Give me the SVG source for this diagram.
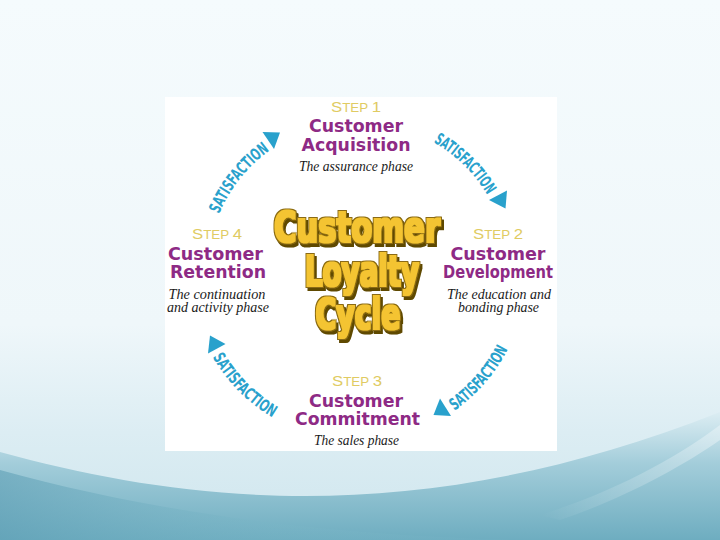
<svg xmlns="http://www.w3.org/2000/svg" width="720" height="540" viewBox="0 0 720 540">
<defs>
<linearGradient id="bg" x1="0" y1="0" x2="0" y2="1">
<stop offset="0" stop-color="#f5fbfd"/>
<stop offset="0.6" stop-color="#eff7fa"/>
<stop offset="0.8" stop-color="#dcedf3"/>
<stop offset="1" stop-color="#cfe6ee"/>
</linearGradient>
<linearGradient id="wave" x1="0" y1="0" x2="0" y2="1">
<stop offset="0" stop-color="#dcedf3"/>
<stop offset="0.4" stop-color="#a3cdda"/>
<stop offset="1" stop-color="#6eadc0"/>
</linearGradient>
<linearGradient id="wave2" x1="0" y1="0" x2="1" y2="0">
<stop offset="0" stop-color="#5e9fb5" stop-opacity="0.6"/>
<stop offset="0.5" stop-color="#7ab7c7" stop-opacity="0.2"/>
<stop offset="1" stop-color="#8cc3d1" stop-opacity="0"/>
</linearGradient>
<linearGradient id="streak" x1="0" y1="0" x2="1" y2="0">
<stop offset="0" stop-color="#ffffff" stop-opacity="0"/>
<stop offset="1" stop-color="#ffffff" stop-opacity="0.35"/>
</linearGradient>
<filter id="fat" x="-5%" y="-20%" width="110%" height="150%">
<feMorphology in="SourceAlpha" operator="dilate" radius="1.5" result="d"/>
<feOffset in="d" dx="2" dy="2.5" result="o"/>
<feFlood flood-color="#5e4800"/>
<feComposite in2="o" operator="in" result="sh"/>
<feFlood flood-color="#8a6a12"/>
<feComposite in2="d" operator="in" result="outline"/>
<feMorphology in="SourceGraphic" operator="dilate" radius="0.7" result="fill"/>
<feMerge>
<feMergeNode in="sh"/>
<feMergeNode in="outline"/>
<feMergeNode in="fill"/>
</feMerge>
</filter>
<style>
.step{font-family:"Liberation Sans","DejaVu Sans",sans-serif;font-size:12px;fill:#e0cb62;text-anchor:middle}
.big{font-size:15px}
.title{font-family:"DejaVu Sans","Verdana",sans-serif;font-weight:bold;font-size:18px;fill:#8e2a85;text-anchor:middle}
.sub{font-family:"Liberation Serif","Times New Roman",serif;font-style:italic;font-size:14px;fill:#1a1a1a;text-anchor:middle}
.sat{font-family:"Liberation Sans Narrow","DejaVu Sans Condensed","Liberation Sans",sans-serif;font-weight:bold;font-size:16.5px;fill:#29a1cc}
.head{fill:#29a1cc}
.gold{font-family:"DejaVu Sans","Verdana",sans-serif;font-weight:bold;font-size:31px;text-anchor:middle;fill:#f4c430}
</style>
<path id="pTL" d="M219,214 A151,151 0 0 1 269.2,150.8"/>
<path id="pTR" d="M433.5,142.2 A151,151 0 0 1 486.1,193"/>
<path id="pBR" d="M454.4,410.6 A168,168 0 0 0 511.5,341.3"/>
<path id="pBL" d="M212.5,357 A168,168 0 0 0 276.6,419.9"/>
</defs>

<rect width="720" height="540" fill="url(#bg)"/>
<path d="M0,452 C200,507 430,527 720,412 L720,540 L0,540 Z" fill="url(#wave)"/>
<path d="M0,470 C180,520 380,540 560,540 L0,540 Z" fill="url(#wave2)"/>
<path d="M540,515 C620,490 680,455 720,425 L720,440 C680,468 620,500 560,520 Z" fill="url(#streak)"/>

<rect x="165" y="97" width="392" height="354" fill="#ffffff"/>

<g id="connectors">
<g id="arrow-top-left">
<text class="sat"><textPath href="#pTL" textLength="82" lengthAdjust="spacingAndGlyphs">SATISFACTION</textPath></text>
<polygon class="head" points="262.5,132 280,132.5 274,149"/>
</g>
<g id="arrow-top-right">
<text class="sat"><textPath href="#pTR" textLength="76" lengthAdjust="spacingAndGlyphs">SATISFACTION</textPath></text>
<polygon class="head" points="507,190.5 505.5,208.5 489,200"/>
</g>
<g id="arrow-bottom-right">
<text class="sat"><textPath href="#pBR" textLength="82" lengthAdjust="spacingAndGlyphs">SATISFACTION</textPath></text>
<polygon class="head" points="451,416 433.5,415 440,398.5"/>
</g>
<g id="arrow-bottom-left">
<text class="sat"><textPath href="#pBL" textLength="86" lengthAdjust="spacingAndGlyphs">SATISFACTION</textPath></text>
<polygon class="head" points="208,353.5 210,335.5 225.5,344"/>
</g>
</g>

<g id="step1">
<text class="step" x="356" y="112" textLength="50" lengthAdjust="spacingAndGlyphs"><tspan class="big">S</tspan>TEP <tspan class="big">1</tspan></text>
<text class="title" x="356" y="132" textLength="94" lengthAdjust="spacingAndGlyphs">Customer</text>
<text class="title" x="356" y="151" textLength="109" lengthAdjust="spacingAndGlyphs">Acquisition</text>
<text class="sub" x="356" y="171" textLength="114" lengthAdjust="spacingAndGlyphs">The assurance phase</text>
</g>

<g id="step2">
<text class="step" x="498" y="238.5" textLength="50" lengthAdjust="spacingAndGlyphs"><tspan class="big">S</tspan>TEP <tspan class="big">2</tspan></text>
<text class="title" x="498" y="259.5" textLength="95" lengthAdjust="spacingAndGlyphs">Customer</text>
<text class="title" transform="translate(498,277.5) scale(1,1.2)" x="0" y="0" style="font-size:15px" textLength="110" lengthAdjust="spacingAndGlyphs">Development</text>
<text class="sub" x="499" y="299" textLength="104" lengthAdjust="spacingAndGlyphs">The education and</text>
<text class="sub" x="498.5" y="312" textLength="81" lengthAdjust="spacingAndGlyphs">bonding phase</text>
</g>

<g id="step3">
<text class="step" x="357" y="386" textLength="50" lengthAdjust="spacingAndGlyphs"><tspan class="big">S</tspan>TEP <tspan class="big">3</tspan></text>
<text class="title" x="356" y="407" textLength="94" lengthAdjust="spacingAndGlyphs">Customer</text>
<text class="title" x="357.5" y="425" textLength="125" lengthAdjust="spacingAndGlyphs">Commitment</text>
<text class="sub" x="356.5" y="445" textLength="85" lengthAdjust="spacingAndGlyphs">The sales phase</text>
</g>

<g id="step4">
<text class="step" x="217" y="238.5" textLength="50" lengthAdjust="spacingAndGlyphs"><tspan class="big">S</tspan>TEP <tspan class="big">4</tspan></text>
<text class="title" x="215.5" y="259.5" textLength="95" lengthAdjust="spacingAndGlyphs">Customer</text>
<text class="title" x="218" y="277.5" textLength="96" lengthAdjust="spacingAndGlyphs">Retention</text>
<text class="sub" x="217" y="299" textLength="97" lengthAdjust="spacingAndGlyphs">The continuation</text>
<text class="sub" x="218" y="312" textLength="102" lengthAdjust="spacingAndGlyphs">and activity phase</text>
</g>

<g id="center-title" class="gold" filter="url(#fat)">
<text transform="translate(357,242) scale(1,1.38)" x="0" y="0" textLength="166" lengthAdjust="spacingAndGlyphs">Customer</text>
<text transform="translate(362,286) scale(1,1.38)" x="0" y="0" textLength="114" lengthAdjust="spacingAndGlyphs">Loyalty</text>
<text transform="translate(358,329) scale(1,1.38)" x="0" y="0" textLength="85" lengthAdjust="spacingAndGlyphs">Cycle</text>
</g>
</svg>
